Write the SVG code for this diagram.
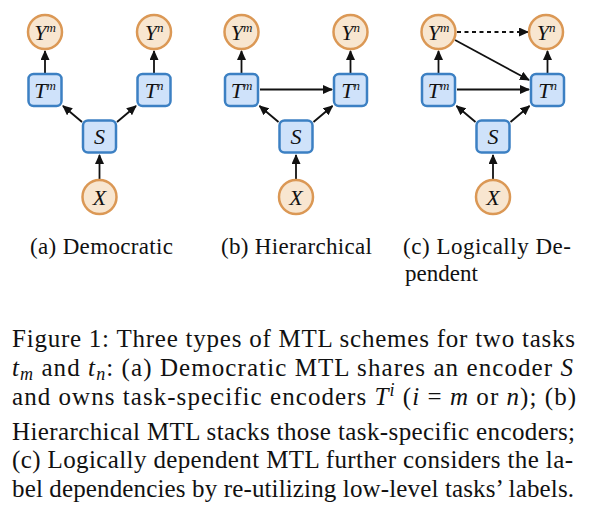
<svg xmlns="http://www.w3.org/2000/svg" width="616" height="524" viewBox="0 0 616 524">
<style>
.c{fill:#f8e6d0;stroke:#db9855;stroke-width:2.5}
.b{fill:#cfe2fa;stroke:#3c80c3;stroke-width:2.5}
text{font-family:'Liberation Serif','Times New Roman',Times,'DejaVu Serif',serif;fill:#111}
.lab{font-style:italic;font-size:22px;text-anchor:middle}
.sup{font-size:13px}
.e{stroke:#111;stroke-width:1.8;fill:none;marker-end:url(#ah)}
.d{stroke-dasharray:4 3.5}
.cap{font-size:25px}
.sc{font-size:23px}
.m{font-style:italic}
</style>
<defs>
<marker id="ah" markerUnits="userSpaceOnUse" markerWidth="10" markerHeight="9" refX="9" refY="4.5" orient="auto">
<path d="M0,0 L10,4.5 L0,9 z" fill="#111"/>
</marker>
</defs>

<g id="connectors">
<line class="e" x1="45" y1="73" x2="45" y2="51"/>
<line class="e" x1="154" y1="73" x2="154" y2="51"/>
<line class="e" x1="82" y1="122" x2="63" y2="106"/>
<line class="e" x1="117" y1="122" x2="136" y2="106"/>
<line class="e" x1="99.5" y1="179" x2="99.5" y2="155"/>
<line class="e" x1="241.5" y1="73" x2="241.5" y2="51"/>
<line class="e" x1="350.5" y1="73" x2="350.5" y2="51"/>
<line class="e" x1="278.5" y1="122" x2="259.5" y2="106"/>
<line class="e" x1="313.5" y1="122" x2="332.5" y2="106"/>
<line class="e" x1="296" y1="179" x2="296" y2="155"/>
<line class="e" x1="260" y1="89.5" x2="332" y2="89.5"/>
<line class="e" x1="438.5" y1="73" x2="438.5" y2="51"/>
<line class="e" x1="547.5" y1="73" x2="547.5" y2="51"/>
<line class="e" x1="475.5" y1="122" x2="456.5" y2="106"/>
<line class="e" x1="510.5" y1="122" x2="529.5" y2="106"/>
<line class="e" x1="493" y1="179" x2="493" y2="155"/>
<line class="e" x1="457" y1="89.5" x2="529" y2="89.5"/>
<line class="e" x1="455" y1="40" x2="529" y2="80"/>
<line class="e d" x1="457" y1="32" x2="528" y2="32"/>
</g>

<g id="a_Ym"><circle class="c" cx="45" cy="32" r="17"/><text class="lab" x="45" y="39.5">Y<tspan class="sup" dy="-8">m</tspan></text></g>
<g id="a_Yn"><circle class="c" cx="154" cy="32" r="17"/><text class="lab" x="154" y="39.5">Y<tspan class="sup" dy="-8">n</tspan></text></g>
<g id="a_Tm"><rect class="b" x="28.5" y="74" width="33" height="32" rx="5"/><text class="lab" x="45" y="97.5">T<tspan class="sup" dy="-8">m</tspan></text></g>
<g id="a_Tn"><rect class="b" x="137.5" y="74" width="33" height="32" rx="5"/><text class="lab" x="154" y="97.5">T<tspan class="sup" dy="-8">n</tspan></text></g>
<g id="a_S"><rect class="b" x="83" y="120.5" width="33" height="32" rx="5"/><text class="lab" x="99.5" y="144">S</text></g>
<g id="a_X"><circle class="c" cx="99.5" cy="197" r="17"/><text class="lab" x="99.5" y="204.5">X</text></g>

<g id="b_Ym"><circle class="c" cx="241.5" cy="32" r="17"/><text class="lab" x="241.5" y="39.5">Y<tspan class="sup" dy="-8">m</tspan></text></g>
<g id="b_Yn"><circle class="c" cx="350.5" cy="32" r="17"/><text class="lab" x="350.5" y="39.5">Y<tspan class="sup" dy="-8">n</tspan></text></g>
<g id="b_Tm"><rect class="b" x="225" y="74" width="33" height="32" rx="5"/><text class="lab" x="241.5" y="97.5">T<tspan class="sup" dy="-8">m</tspan></text></g>
<g id="b_Tn"><rect class="b" x="334" y="74" width="33" height="32" rx="5"/><text class="lab" x="350.5" y="97.5">T<tspan class="sup" dy="-8">n</tspan></text></g>
<g id="b_S"><rect class="b" x="279.5" y="120.5" width="33" height="32" rx="5"/><text class="lab" x="296" y="144">S</text></g>
<g id="b_X"><circle class="c" cx="296" cy="197" r="17"/><text class="lab" x="296" y="204.5">X</text></g>

<g id="c_Ym"><circle class="c" cx="438.5" cy="32" r="17"/><text class="lab" x="438.5" y="39.5">Y<tspan class="sup" dy="-8">m</tspan></text></g>
<g id="c_Yn"><circle class="c" cx="546" cy="32" r="17"/><text class="lab" x="546" y="39.5">Y<tspan class="sup" dy="-8">n</tspan></text></g>
<g id="c_Tm"><rect class="b" x="422" y="74" width="33" height="32" rx="5"/><text class="lab" x="438.5" y="97.5">T<tspan class="sup" dy="-8">m</tspan></text></g>
<g id="c_Tn"><rect class="b" x="531" y="74" width="33" height="32" rx="5"/><text class="lab" x="547.5" y="97.5">T<tspan class="sup" dy="-8">n</tspan></text></g>
<g id="c_S"><rect class="b" x="476.5" y="120.5" width="33" height="32" rx="5"/><text class="lab" x="493" y="144">S</text></g>
<g id="c_X"><circle class="c" cx="493" cy="197" r="17"/><text class="lab" x="493" y="204.5">X</text></g>

<text class="sc" x="30" y="254" textLength="143" lengthAdjust="spacing">(a) Democratic</text>
<text class="sc" x="221" y="254" textLength="151" lengthAdjust="spacing">(b) Hierarchical</text>
<text class="sc" x="403" y="254" textLength="168" lengthAdjust="spacing">(c) Logically De-</text>
<text class="sc" x="405" y="281">pendent</text>

<text class="cap" x="12" y="347" textLength="563" lengthAdjust="spacing">Figure 1: Three types of MTL schemes for two tasks</text>
<text class="cap" x="12" y="376" textLength="561" lengthAdjust="spacing"><tspan class="m">t</tspan><tspan class="m" font-size="18" dy="4">m</tspan><tspan dy="-4"> and </tspan><tspan class="m">t</tspan><tspan class="m" font-size="18" dy="4">n</tspan><tspan dy="-4">: (a) Democratic MTL shares an encoder </tspan><tspan class="m">S</tspan></text>
<text class="cap" x="12" y="405" textLength="564" lengthAdjust="spacing">and owns task-specific encoders <tspan class="m">T</tspan><tspan class="m" font-size="18" dy="-9">i</tspan><tspan dy="9"> (</tspan><tspan class="m">i</tspan> = <tspan class="m">m</tspan> or <tspan class="m">n</tspan>); (b)</text>
<text class="cap" x="12" y="440" textLength="563" lengthAdjust="spacing">Hierarchical MTL stacks those task-specific encoders;</text>
<text class="cap" x="12" y="468" textLength="561" lengthAdjust="spacing">(c) Logically dependent MTL further considers the la-</text>
<text class="cap" x="12" y="497" textLength="562" lengthAdjust="spacing">bel dependencies by re-utilizing low-level tasks’ labels.</text>
</svg>
